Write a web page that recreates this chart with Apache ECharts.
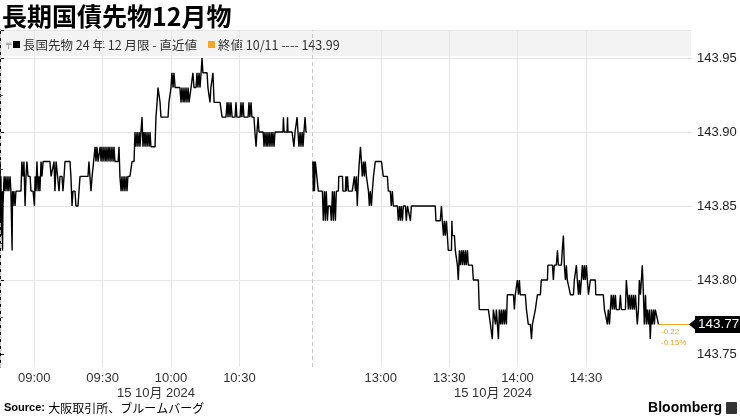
<!DOCTYPE html>
<html><head><meta charset="utf-8">
<script src="https://cdn.jsdelivr.net/npm/echarts@6/dist/echarts.min.js"></script>
<style>html,body{margin:0;padding:0;background:#fff}#c{width:740px;height:416px}</style>
</head><body><div id="c"></div>
<script>
// ---------- data ----------
const title = '長期国債先物12月物';
const seriesName = '長国先物 24 年 12 月限 - 直近値';
const prevCloseLabel = '終値 10/11';
const prevClose = 143.99;
const sessionDate = '15 10月 2024';
const sourceText = '大阪取引所、ブルームバーグ';
const xTickLabels = ['09:00','09:30','10:00','10:30','13:00','13:30','14:00','14:30'];
const yTickValues = [143.75, 143.80, 143.85, 143.90, 143.95];
const amOpen = '08:45', amClose = '11:02', pmOpen = '12:30';

// morning session: minutes after 08:45
const amTime = [0,0.2,0.4,0.7,0.9,1.1,1.3,1.8,2.2,2.6,
3.1,3.5,3.9,4.4,4.8,5.3,5.5,5.7,6.1,6.6,
7.0,9.2,9.6,10.1,10.5,11.0,11.4,11.8,12.3,13.2,
13.6,14.5,15.1,15.4,15.8,16.2,16.7,17.1,17.5,18.0,
18.4,18.9,21.9,22.4,23.2,23.7,24.1,24.6,25.4,25.9,
26.3,27.2,27.6,28.1,28.5,30.7,31.1,31.6,32.0,32.9,
33.3,34.2,35.1,38.6,39.0,39.9,40.4,41.2,41.7,42.1,
42.5,43.0,43.4,43.9,44.3,44.7,45.2,45.6,46.1,46.5,
46.9,47.4,47.8,48.2,48.7,49.1,49.6,50.0,50.4,51.8,
52.2,52.6,53.1,53.5,53.9,54.4,54.8,55.3,55.7,56.1,
57.0,57.9,58.8,59.2,59.6,60.1,60.5,61.0,61.4,61.8,
62.3,62.7,63.2,63.6,64.0,64.5,64.9,65.4,65.8,66.2,
68.0,68.4,68.9,69.3,69.7,70.2,70.6,71.1,73.7,74.1,
75.0,75.4,75.9,76.3,76.8,77.6,78.9,79.4,79.8,80.3,
80.7,81.1,81.6,82.0,82.5,82.9,83.8,84.2,84.6,85.1,
86.0,86.4,86.8,87.3,87.7,88.2,88.6,89.0,90.8,91.2,
91.7,92.1,92.5,93.0,93.4,93.9,96.5,97.4,99.1,99.6,
100.0,100.4,100.9,101.3,101.8,103.1,103.5,103.9,105.3,105.7,
106.1,106.6,107.0,108.8,109.2,109.6,110.1,110.5,111.4,111.8,
112.3,112.7,113.2,113.6,115.4,115.8,116.2,116.7,117.1,117.5,
118.0,118.4,118.9,119.3,119.7,120.2,120.6,124.1,124.3,124.6,
125.9,126.1,126.3,126.8,128.1,128.9,129.4,130.3,130.7,131.1,
131.6,132.0,132.5,132.9,133.3,133.8,134.2,134.6];
const amPrice = [143.88,143.84,143.87,143.83,143.86,143.82,143.85,143.87,143.86,143.87,
143.86,143.87,143.86,143.87,143.86,143.82,143.86,143.85,143.86,143.85,
143.86,143.86,143.88,143.87,143.88,143.85,143.87,143.88,143.87,143.87,
143.86,143.86,143.85,143.87,143.86,143.88,143.86,143.87,143.86,143.88,
143.87,143.88,143.88,143.87,143.87,143.88,143.86,143.88,143.88,143.86,
143.87,143.87,143.86,143.87,143.88,143.88,143.87,143.85,143.86,143.86,
143.85,143.85,143.87,143.87,143.88,143.86,143.87,143.87,143.89,143.88,
143.89,143.88,143.88,143.89,143.88,143.89,143.88,143.89,143.88,143.89,
143.88,143.89,143.88,143.89,143.88,143.89,143.88,143.89,143.88,143.88,
143.89,143.87,143.86,143.87,143.86,143.87,143.86,143.87,143.86,143.87,
143.87,143.88,143.88,143.90,143.89,143.90,143.89,143.90,143.89,143.90,
143.91,143.89,143.90,143.89,143.90,143.89,143.90,143.89,143.90,143.89,
143.89,143.91,143.92,143.93,143.93,143.92,143.91,143.91,143.91,143.92,
143.93,143.94,143.93,143.94,143.93,143.93,143.93,143.92,143.93,143.92,
143.93,143.92,143.93,143.92,143.93,143.92,143.93,143.93,143.94,143.93,
143.93,143.94,143.93,143.94,143.93,143.94,143.95,143.94,143.94,143.93,
143.93,143.92,143.93,143.93,143.94,143.92,143.92,143.91,143.91,143.92,
143.91,143.92,143.91,143.92,143.91,143.91,143.92,143.91,143.91,143.92,
143.91,143.92,143.91,143.91,143.92,143.91,143.92,143.91,143.91,143.90,
143.89,143.90,143.91,143.90,143.90,143.89,143.90,143.89,143.90,143.89,
143.90,143.89,143.90,143.89,143.90,143.89,143.90,143.90,143.91,143.90,
143.90,143.91,143.90,143.90,143.90,143.89,143.90,143.91,143.90,143.89,
143.90,143.89,143.90,143.89,143.90,143.91,143.90,143.90];

// afternoon session: minutes after 12:30
const pmTime = [0.2,0.4,0.7,0.9,1.3,2.6,4.4,4.8,5.3,5.7,
6.1,6.6,7.0,7.9,8.3,8.8,9.2,9.6,10.1,10.5,
11.4,11.6,13.2,13.4,14.5,14.7,14.9,15.4,15.8,17.5,
18.4,18.9,19.3,19.7,20.2,20.6,21.1,21.5,21.9,22.4,
22.8,23.2,23.7,24.6,25.0,25.4,25.9,26.3,26.8,27.6,
30.3,31.1,32.9,33.3,34.2,34.6,35.1,35.5,37.3,37.7,
38.2,38.6,39.0,39.5,39.9,40.8,41.2,41.7,43.0,43.4,
44.7,53.9,54.2,56.1,56.6,57.0,57.5,57.9,58.3,58.8,
59.2,59.6,61.0,61.2,61.4,62.3,62.7,63.6,64.0,64.5,
64.9,65.4,65.8,66.2,66.7,67.1,67.5,68.0,68.4,70.2,
70.6,72.8,73.2,77.2,78.1,78.9,79.4,80.3,80.7,81.6,
82.0,82.5,82.9,83.3,83.8,84.2,84.6,85.1,85.5,88.2,
88.6,89.0,89.9,90.4,90.8,91.2,93.4,93.9,94.7,95.6,
96.1,96.5,97.8,98.7,100.0,100.4,103.1,103.3,105.3,105.7,
106.1,107.0,107.5,107.9,109.2,109.6,110.1,110.5,111.0,111.4,
111.8,113.2,114.5,114.9,115.8,116.2,116.7,117.1,117.5,118.0,
118.4,118.9,119.3,119.7,120.2,120.6,121.1,121.9,124.1,124.3,
127.6,128.1,128.9,129.4,129.8,130.3,130.7,131.1,131.6,132.0,
132.5,132.9,133.3,134.6,135.1,135.5,136.4,137.3,137.7,138.2,
138.6,139.0,139.5,139.9,140.4,140.8,141.2,141.7,142.1,142.5,
143.0,143.4,143.9,144.3,144.7,145.2,145.6,146.1,146.5,146.9,
147.4,147.8,148.2,148.7,149.1,149.6,150.0,150.4,151.8];
const pmPrice = [143.88,143.86,143.88,143.86,143.88,143.86,143.86,143.84,143.86,143.84,
143.86,143.84,143.85,143.85,143.84,143.86,143.84,143.86,143.84,143.86,
143.86,143.87,143.87,143.86,143.86,143.87,143.86,143.87,143.86,143.86,
143.87,143.86,143.87,143.85,143.87,143.88,143.89,143.88,143.87,143.88,
143.87,143.88,143.87,143.86,143.85,143.86,143.85,143.86,143.87,143.88,
143.88,143.87,143.87,143.86,143.86,143.85,143.86,143.85,143.85,143.84,
143.85,143.84,143.85,143.84,143.85,143.85,143.84,143.85,143.84,143.85,
143.85,143.85,143.84,143.84,143.85,143.84,143.83,143.84,143.83,143.84,
143.83,143.82,143.82,143.84,143.83,143.83,143.82,143.81,143.80,143.82,
143.81,143.82,143.81,143.82,143.81,143.82,143.81,143.82,143.81,143.81,
143.80,143.80,143.78,143.78,143.77,143.76,143.78,143.77,143.78,143.76,
143.78,143.77,143.78,143.77,143.78,143.77,143.78,143.77,143.79,143.79,
143.78,143.79,143.80,143.79,143.80,143.79,143.79,143.78,143.77,143.77,
143.76,143.77,143.78,143.79,143.79,143.80,143.80,143.81,143.81,143.80,
143.81,143.81,143.82,143.81,143.81,143.82,143.83,143.81,143.80,143.81,
143.80,143.79,143.79,143.80,143.81,143.80,143.79,143.80,143.79,143.80,
143.81,143.80,143.81,143.80,143.81,143.80,143.79,143.80,143.80,143.79,
143.79,143.78,143.78,143.77,143.78,143.77,143.78,143.79,143.78,143.79,
143.78,143.79,143.78,143.78,143.79,143.78,143.78,143.78,143.80,143.79,
143.78,143.79,143.78,143.79,143.78,143.79,143.78,143.79,143.78,143.77,
143.78,143.80,143.79,143.80,143.81,143.79,143.77,143.79,143.77,143.78,
143.77,143.78,143.76,143.78,143.77,143.78,143.77,143.78,143.77];

// ---------- derived ----------
const toMin = s => { const [h, m] = s.split(':').map(Number); return h * 60 + m; };
const amLen = toMin(amClose) - toMin(amOpen);          // session break position on the compressed axis
const posOf = lbl => {
  const t = toMin(lbl);
  return t < toMin(pmOpen) ? t - toMin(amOpen) : amLen + t - toMin(pmOpen);
};
const xTickPos = xTickLabels.map(posOf);
const X_MAX = 303.5;
const Y_TOP = 143.9689, Y_BOTTOM = 143.7412;
const amData = amTime.map((t, i) => [t, amPrice[i]]);
const pmData = pmTime.map((t, i) => [amLen + t, pmPrice[i]]);
const last = pmPrice[pmPrice.length - 1];
const lastX = amLen + pmTime[pmTime.length - 1];
const chg = last - prevClose;
const chgPct = chg / prevClose * 100;

const GRID = '#e6e6e6';
const ORANGE = '#f5a623';
const numFont = 'Liberation Sans, Arial, sans-serif';
const cjkFont = 'Noto Sans CJK JP, sans-serif';

const chart = echarts.init(document.getElementById('c'), null, { renderer: 'canvas' });
chart.setOption({
  animation: false,
  backgroundColor: '#fff',
  grid: [
    { left: 0, right: 48, top: 30, bottom: 49 },
    { left: 0, right: 48, top: 30, bottom: 62 }
  ],
  xAxis: [
    {
      type: 'value', gridIndex: 0, min: 0, max: X_MAX,
      axisLine: { show: false },
      axisTick: { show: false, customValues: xTickPos },
      splitLine: { show: true, lineStyle: { color: GRID, width: 1 } },
      axisLabel: {
        customValues: xTickPos, margin: 5, fontSize: 13, color: '#333', fontFamily: numFont,
        formatter: v => { const i = xTickPos.findIndex(p => Math.abs(p - v) < 1e-6); return i >= 0 ? xTickLabels[i] : ''; }
      }
    },
    { type: 'value', gridIndex: 1, min: 0, max: X_MAX, show: false }
  ],
  yAxis: [
    {
      type: 'value', gridIndex: 0, position: 'right', min: Y_BOTTOM, max: Y_TOP,
      axisLine: { show: true, lineStyle: { color: '#000', width: 1 } },
      axisTick: { show: false }, axisLabel: { show: false }, splitLine: { show: false }
    },
    {
      type: 'value', gridIndex: 1, position: 'right', min: yTickValues[0], max: Y_TOP, interval: 0.05,
      axisLine: { show: false },
      axisTick: { show: true, length: 4, lineStyle: { color: '#000' } },
      minorTick: { show: true, splitNumber: 2, length: 3, lineStyle: { color: '#555' } },
      splitLine: { show: true, showMinLine: false, lineStyle: { color: GRID } },
      axisLabel: {
        margin: 5, fontSize: 13, color: '#222', fontFamily: numFont, showMaxLabel: false,
        formatter: v => yTickValues.some(t => Math.abs(t - v) < 1e-6) ? v.toFixed(2) : ''
      }
    }
  ],
  series: [
    {
      name: seriesName, type: 'line', xAxisIndex: 0, yAxisIndex: 0, data: amData,
      showSymbol: false, symbol: 'none', lineStyle: { color: '#000', width: 1.4 }, z: 5,
      markLine: {
        silent: true, symbol: ['none', 'none'], label: { show: false },
        lineStyle: { color: '#c8c8c8', type: [4, 3], width: 1 },
        data: [{ xAxis: 0 }, { xAxis: amLen }]
      }
    },
    {
      name: seriesName, type: 'line', xAxisIndex: 0, yAxisIndex: 0, data: pmData,
      showSymbol: false, symbol: 'none', lineStyle: { color: '#000', width: 1.4 }, z: 5,
      markLine: {
        silent: true, symbol: ['none', 'none'],
        lineStyle: { color: ORANGE, type: 'solid', width: 1 },
        label: {
          show: true, position: 'end', distance: 3, formatter: () => last.toFixed(2),
          backgroundColor: '#000', color: '#fff', fontSize: 13.5, fontFamily: numFont,
          padding: [2, 2, 1, 3]
        },
        data: [[{ coord: [lastX, last] }, { coord: [X_MAX, last] }]]
      },
      markPoint: {
        silent: true,
        data: [
          { coord: [X_MAX, last], symbol: 'triangle', symbolSize: [10, 6], symbolRotate: 90,
            symbolOffset: [0, 0], itemStyle: { color: '#000' }, label: { show: false } },
          { coord: [lastX, last], symbol: 'circle', symbolSize: 1, itemStyle: { color: 'rgba(0,0,0,0)' },
            label: { show: true, position: [3, 2], align: 'left', verticalAlign: 'top',
              formatter: () => chg.toFixed(2) + '\n' + chgPct.toFixed(2) + '%',
              color: ORANGE, fontSize: 8, lineHeight: 11, fontFamily: numFont } }
        ]
      }
    }
  ],
  graphic: [
    { type: 'rect', z: -1, shape: { x: 0, y: 31, width: 691, height: 25 }, style: { fill: '#f3f3f3' } },
    { type: 'text', x: 2, y: 16, style: { text: title, font: 'bold 25px ' + cjkFont, fill: '#000', verticalAlign: 'middle' } },
    { type: 'text', x: 6, y: 45, style: { text: '╤', font: '9px DejaVu Sans', fill: '#888', verticalAlign: 'middle' } },
    { type: 'rect', shape: { x: 13, y: 41, width: 7, height: 7 }, style: { fill: '#000' } },
    { type: 'text', x: 23, y: 45, style: { text: seriesName, font: '12.5px ' + cjkFont, fill: '#333', verticalAlign: 'middle' } },
    { type: 'rect', shape: { x: 208, y: 41, width: 7, height: 7 }, style: { fill: ORANGE } },
    { type: 'text', x: 218, y: 45, style: { text: prevCloseLabel + ' ---- ' + prevClose.toFixed(2), font: '12.5px ' + cjkFont, fill: '#333', verticalAlign: 'middle' } },
    { type: 'text', x: 156, y: 393, style: { text: sessionDate, font: '13px ' + numFont + ', ' + cjkFont, fill: '#333', align: 'center', verticalAlign: 'middle' } },
    { type: 'text', x: 493, y: 393, style: { text: sessionDate, font: '13px ' + numFont + ', ' + cjkFont, fill: '#333', align: 'center', verticalAlign: 'middle' } },
    { type: 'text', x: 4, y: 408, style: {
        text: '{b|Source:} {n|' + sourceText + '}', verticalAlign: 'middle',
        rich: { b: { font: 'bold 11px ' + numFont, fill: '#000' }, n: { font: '12px ' + cjkFont, fill: '#000' } } } },
    { type: 'text', x: 722, y: 408, style: { text: 'Bloomberg', font: 'bold 14px ' + numFont, fill: '#000', align: 'right', verticalAlign: 'middle' } },
    { type: 'rect', shape: { x: 726, y: 402, width: 11, height: 12, r: 1 }, style: { fill: '#333' } }
  ]
});
</script></body></html>
